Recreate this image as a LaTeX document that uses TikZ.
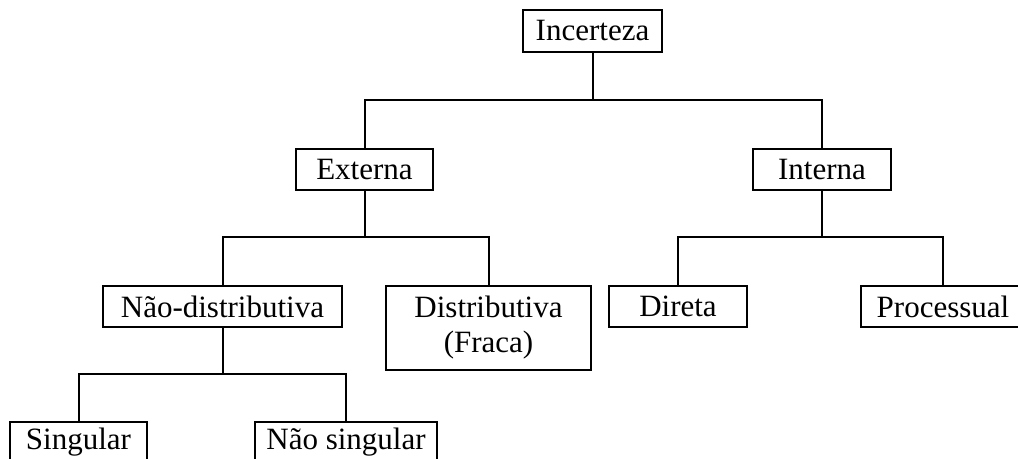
\documentclass[tikz,border=0pt]{standalone}
\usepackage{fontspec}
\setmainfont{Liberation Serif}
\begin{document}
\begin{tikzpicture}[x=0.5pt,y=-0.5pt,
  box/.style={draw,line width=1pt,inner sep=0pt,align=center,font=\fontsize{15.5}{17.5}\selectfont},
  conn/.style={line width=1pt}]
\clip (0,0) rectangle (1018,459);
\useasboundingbox (0,0) rectangle (1018,459);
\node[box,minimum width=69.5pt,minimum height=21pt] (inc) at (592.5,31) {Incerteza};
\node[box,minimum width=68.5pt,minimum height=20.5pt] (ext) at (364.5,169.5) {Externa};
\node[box,minimum width=69pt,minimum height=20.5pt] (int) at (822,169.5) {Interna};
\node[box,minimum width=119.5pt,minimum height=20.5pt] (nd) at (222.5,306.5) {Não-distributiva};
\node[box,minimum width=102.5pt,minimum height=42pt] (dis) at (488.5,328) {Distributiva\\(Fraca)};
\node[box,minimum width=69pt,minimum height=20.5pt] (dir) at (678,306.5) {Direta};
\node[box,minimum width=82pt,minimum height=20.5pt] (pro) at (943,306.5) {Processual};
\node[box,minimum width=68.5pt,minimum height=20.5pt] (sin) at (78.5,442.5) {Singular};
\node[box,minimum width=91pt,minimum height=20.5pt] (nsi) at (346,442.5) {Não singular};
\coordinate (b1) at (0,100);
\coordinate (b2) at (0,237);
\coordinate (b3) at (0,374);
\draw[conn] (inc.south) -- (inc.south |- b1);
\draw[conn] (ext.north) |- (int.north |- b1) -- (int.north);
\draw[conn] (ext.south) -- (ext.south |- b2);
\draw[conn] (nd.north) |- (dis.north |- b2) -- (dis.north);
\draw[conn] (int.south) -- (int.south |- b2);
\draw[conn] (dir.north) |- (pro.north |- b2) -- (pro.north);
\draw[conn] (nd.south) -- (nd.south |- b3);
\draw[conn] (sin.north) |- (nsi.north |- b3) -- (nsi.north);
\end{tikzpicture}
\end{document}
